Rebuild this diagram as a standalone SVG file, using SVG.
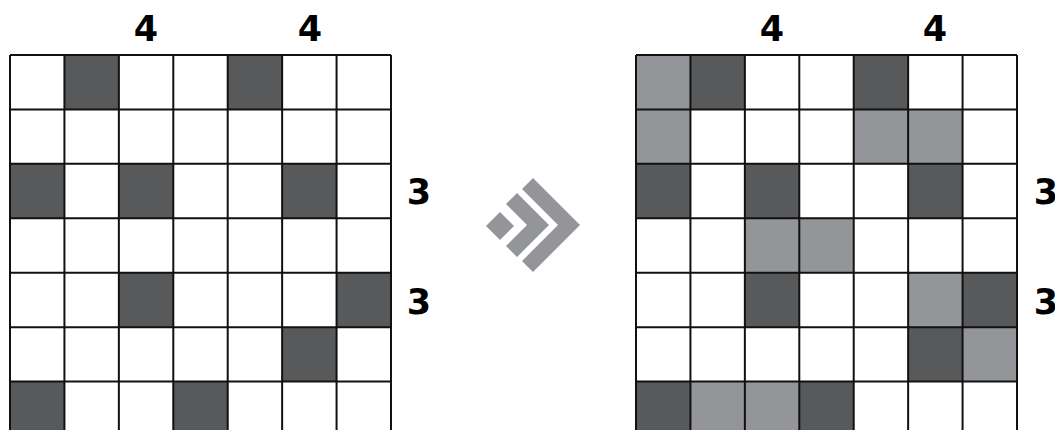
<svg xmlns="http://www.w3.org/2000/svg" width="1055" height="430" viewBox="0 0 1055 430">
<style>
.w{fill:#fff;}
.d{fill:#58595b;}
.l{fill:#939598;}
.g{stroke:#111;stroke-width:2;fill:none;}
.t{font-family:"DejaVu Sans",sans-serif;font-weight:bold;font-size:35px;fill:#000;text-anchor:middle;}
.a{fill:#939598;}
</style>
<rect width="1055" height="430" fill="#fff"/>
<g id="left-grid" transform="translate(10,55)">
<rect class="w" x="0" y="0" width="381" height="381"/>
<g class="d">
<rect x="54.43" y="0" width="54.43" height="54.43"/>
<rect x="217.71" y="0" width="54.43" height="54.43"/>
<rect x="0" y="108.86" width="54.43" height="54.43"/>
<rect x="108.86" y="108.86" width="54.43" height="54.43"/>
<rect x="272.14" y="108.86" width="54.43" height="54.43"/>
<rect x="108.86" y="217.71" width="54.43" height="54.43"/>
<rect x="326.57" y="217.71" width="54.43" height="54.43"/>
<rect x="272.14" y="272.14" width="54.43" height="54.43"/>
<rect x="0" y="326.57" width="54.43" height="54.43"/>
<rect x="163.29" y="326.57" width="54.43" height="54.43"/>
</g>
<g class="g">
<path d="M0 0V381M54.43 0V381M108.86 0V381M163.29 0V381M217.71 0V381M272.14 0V381M326.57 0V381M381 0V381"/>
<path d="M0 0H381M0 54.43H381M0 108.86H381M0 163.29H381M0 217.71H381M0 272.14H381M0 326.57H381"/>
</g>
</g>
<g id="left-labels" class="t">
<text x="146" y="41">4</text>
<text x="310" y="41">4</text>
<text x="419" y="204">3</text>
<text x="419" y="314">3</text>
</g>
<g id="arrow-icon" class="a">
<polygon points="486,226 500,212 514,226 500,240"/>
<polygon points="517,193 549,225 517,257 506,246 527,225 506,204"/>
<polygon points="533,178 580,225 533,272 522,261 558,225 522,189"/>
</g>
<g id="right-grid" transform="translate(636,55)">
<rect class="w" x="0" y="0" width="381" height="381"/>
<g class="l">
<rect x="0" y="0" width="54.43" height="54.43"/>
<rect x="0" y="54.43" width="54.43" height="54.43"/>
<rect x="217.71" y="54.43" width="54.43" height="54.43"/>
<rect x="272.14" y="54.43" width="54.43" height="54.43"/>
<rect x="108.86" y="163.29" width="54.43" height="54.43"/>
<rect x="163.29" y="163.29" width="54.43" height="54.43"/>
<rect x="272.14" y="217.71" width="54.43" height="54.43"/>
<rect x="326.57" y="272.14" width="54.43" height="54.43"/>
<rect x="54.43" y="326.57" width="54.43" height="54.43"/>
<rect x="108.86" y="326.57" width="54.43" height="54.43"/>
</g>
<g class="d">
<rect x="54.43" y="0" width="54.43" height="54.43"/>
<rect x="217.71" y="0" width="54.43" height="54.43"/>
<rect x="0" y="108.86" width="54.43" height="54.43"/>
<rect x="108.86" y="108.86" width="54.43" height="54.43"/>
<rect x="272.14" y="108.86" width="54.43" height="54.43"/>
<rect x="108.86" y="217.71" width="54.43" height="54.43"/>
<rect x="326.57" y="217.71" width="54.43" height="54.43"/>
<rect x="272.14" y="272.14" width="54.43" height="54.43"/>
<rect x="0" y="326.57" width="54.43" height="54.43"/>
<rect x="163.29" y="326.57" width="54.43" height="54.43"/>
</g>
<g class="g">
<path d="M0 0V381M54.43 0V381M108.86 0V381M163.29 0V381M217.71 0V381M272.14 0V381M326.57 0V381M381 0V381"/>
<path d="M0 0H381M0 54.43H381M0 108.86H381M0 163.29H381M0 217.71H381M0 272.14H381M0 326.57H381"/>
</g>
</g>
<g id="right-labels" class="t">
<text x="772" y="41">4</text>
<text x="935" y="41">4</text>
<text x="1046" y="204">3</text>
<text x="1046" y="314">3</text>
</g>
</svg>
